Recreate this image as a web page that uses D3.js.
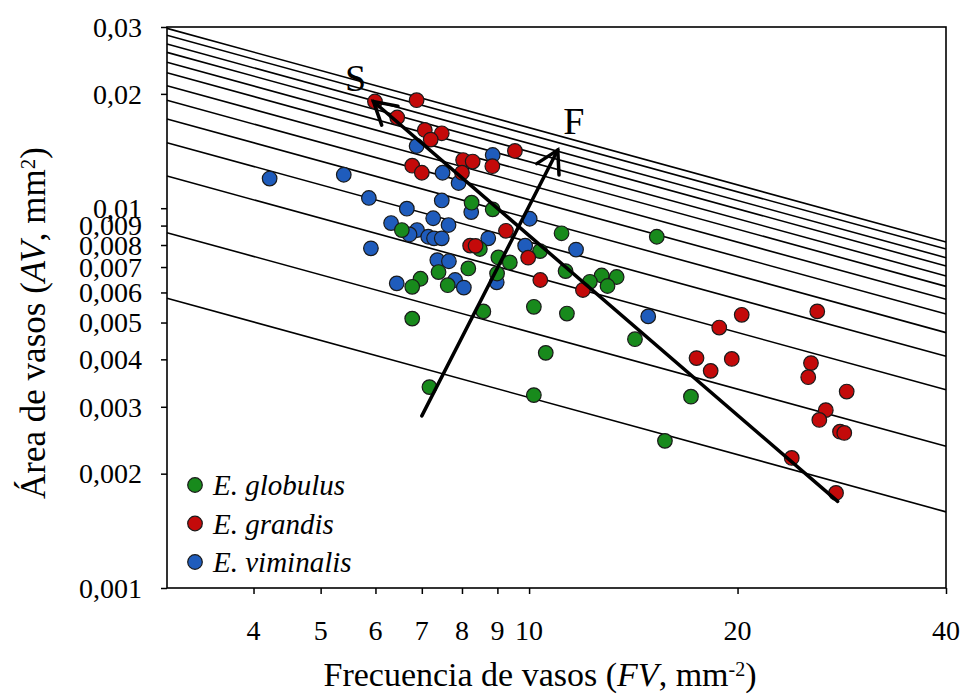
<!DOCTYPE html>
<html lang="es">
<head>
<meta charset="utf-8">
<title>Área de vasos vs frecuencia de vasos</title>
<script src="https://cdn.jsdelivr.net/npm/d3@7"></script>
<style>
  body { margin: 0; background: #fff; }
  text { font-family: "Liberation Serif", "Times New Roman", serif; fill: #000; }
  .axis path, .axis line { stroke: #000; stroke-width: 1.5; fill: none; }
  .iso { fill: none; stroke: #000; stroke-width: 1.6; }
  .arrow { fill: none; stroke: #000; stroke-width: 3.5; stroke-linecap: round; }
  .dot { stroke: #1a1a1a; stroke-width: 1.2; }
</style>
</head>
<body>
<div id="chart"></div>
<script>
// ---- data (FV in mm-2, AV in mm2) ----
var globulusFV = [8.26, 8.86, 6.55, 8.49, 11.14, 15.29, 10.37, 9.03, 9.38, 8.17, 7.40, 8.99, 11.29, 12.73, 13.38,
                  12.24, 12.98, 6.97, 6.78, 7.63, 10.16, 11.34, 8.59, 6.78, 10.57, 7.18, 10.16, 14.22, 17.13, 15.71];
var globulusAV = [0.01034, 0.00993, 0.00876, 0.00781, 0.00859, 0.00841, 0.00771, 0.00742, 0.00720, 0.00694, 0.00679, 0.00673, 0.00683, 0.00665, 0.00659,
                  0.00640, 0.00624, 0.00652, 0.00621, 0.00627, 0.00550, 0.00528, 0.00535, 0.00512, 0.00416, 0.00338, 0.00322, 0.00452, 0.00319, 0.00244];

var grandisFV = [5.99, 6.88, 6.45, 7.07, 7.48, 7.21, 9.54, 8.03, 8.29, 8.85, 6.78, 7.00, 8.00, 9.26, 8.22, 8.37, 9.97,
                 10.38, 11.96, 20.28, 26.07, 18.82, 17.45, 19.62, 18.29, 25.53, 25.30, 28.75, 26.82, 26.25, 28.12, 28.52, 23.95, 27.75];
var grandisAV = [0.01910, 0.01925, 0.01733, 0.01607, 0.01575, 0.01516, 0.01415, 0.01339, 0.01327, 0.01290, 0.01294, 0.01240, 0.01240, 0.00872, 0.00797, 0.00796, 0.00741,
                 0.00647, 0.00609, 0.00524, 0.00535, 0.00485, 0.00403, 0.00401, 0.00373, 0.00391, 0.00359, 0.00329, 0.00294, 0.00277, 0.00258, 0.00256, 0.00220, 0.00178];

var viminalisFV = [4.22, 5.40, 6.88, 8.86, 7.50, 7.91, 5.87, 7.48, 8.25, 6.66, 7.27, 7.65, 6.32, 6.89, 6.72,
                   7.15, 7.29, 7.48, 8.73, 10.02, 9.87, 11.69, 5.91, 7.37, 7.66, 7.82, 8.05, 6.44, 8.98, 14.86];
var viminalisAV = [0.01197, 0.01225, 0.01458, 0.01381, 0.01240, 0.01165, 0.01064, 0.01048, 0.00977, 0.00997, 0.00941, 0.00903, 0.00914, 0.00876, 0.00853,
                   0.00841, 0.00833, 0.00833, 0.00833, 0.00938, 0.00797, 0.00778, 0.00784, 0.00730, 0.00725, 0.00647, 0.00618, 0.00634, 0.00638, 0.00519];

// iso lines: constant FV * AV^2 (mm2)
var isoK = [1.007e-4, 2.23e-4, 4.43e-4, 6.64e-4, 8.85e-4, 11.1e-4, 13.25e-4, 15.5e-4, 17.6e-4, 19.85e-4, 21.95e-4, 24.4e-4, 26.55e-4];

// arrows [FV, AV] from -> to
var arrowS = [[27.9, 0.00169], [5.96, 0.0191]];
var arrowF = [[7.0, 0.00284], [11.0, 0.01423]];

var xTicks = [4, 5, 6, 7, 8, 9, 10, 20, 40];
var yTicks = [0.001, 0.002, 0.003, 0.004, 0.005, 0.006, 0.007, 0.008, 0.009, 0.01, 0.02, 0.03];

var species = ["E. globulus", "E. grandis", "E. viminalis"];
var colors = ["#188a1c", "#c40a0a", "#1f5cbc"];

// ---- layout ----
var W = 962, H = 697;
var mLeft = 167, mRight = 946, mTop = 27, mBottom = 588;

var svg = d3.select("#chart").append("svg")
  .attr("width", W).attr("height", H);

var x = d3.scaleLog().domain([3, 40]).range([mLeft, mRight]);
var y = d3.scaleLog().domain([0.001, 0.03]).range([mBottom, mTop]);

function fmt(v) { return String(+v.toPrecision(3)).replace(".", ","); }

// iso lines
var isoLine = d3.line().x(function(d){ return x(d[0]); }).y(function(d){ return y(d[1]); });
svg.append("g").selectAll("path")
  .data(isoK).enter().append("path")
  .attr("class", "iso")
  .attr("d", function(k) {
    return isoLine([3, 40].map(function(f){ return [f, Math.sqrt(k / f)]; }));
  });

// axes
svg.append("g").attr("class", "axis")
  .attr("transform", "translate(0," + mBottom + ")")
  .call(d3.axisBottom(x).tickValues(xTicks).tickSize(6).tickFormat(""));
svg.append("g").attr("class", "axis")
  .attr("transform", "translate(" + mLeft + ",0)")
  .call(d3.axisLeft(y).tickValues(yTicks).tickSize(6).tickFormat(""));
svg.selectAll(".axis .domain").remove();

// frame
svg.append("rect")
  .attr("x", mLeft).attr("y", mTop)
  .attr("width", mRight - mLeft).attr("height", mBottom - mTop)
  .attr("fill", "none").attr("stroke", "#000").attr("stroke-width", 1.6);

// tick labels
svg.append("g").selectAll("text")
  .data(xTicks).enter().append("text")
  .attr("x", function(d){ return x(d); })
  .attr("y", 640)
  .attr("text-anchor", "middle")
  .style("font-size", "28px")
  .text(function(d){ return d; });

svg.append("g").selectAll("text")
  .data(yTicks).enter().append("text")
  .attr("x", 142)
  .attr("y", function(d){ return y(d); })
  .attr("dy", "0.35em")
  .attr("text-anchor", "end")
  .style("font-size", "28px")
  .text(fmt);

// points
var series = [
  {fv: viminalisFV, av: viminalisAV, c: colors[2]},
  {fv: globulusFV, av: globulusAV, c: colors[0]},
  {fv: grandisFV, av: grandisAV, c: colors[1]}
];
series.forEach(function(s) {
  svg.append("g").selectAll("circle")
    .data(d3.range(s.fv.length)).enter().append("circle")
    .attr("class", "dot")
    .attr("cx", function(i){ return x(s.fv[i]); })
    .attr("cy", function(i){ return y(s.av[i]); })
    .attr("r", 7.3)
    .attr("fill", s.c);
});

// arrows with open heads
function drawArrow(a) {
  var x0 = x(a[0][0]), y0 = y(a[0][1]), x1 = x(a[1][0]), y1 = y(a[1][1]);
  var ang = Math.atan2(y0 - y1, x0 - x1), len = 25, sp = Math.PI / 6;
  svg.append("path").attr("class", "arrow")
    .attr("d", "M" + x0 + "," + y0 + "L" + x1 + "," + y1);
  svg.append("path").attr("class", "arrow")
    .attr("d", "M" + (x1 + len * Math.cos(ang + sp)) + "," + (y1 + len * Math.sin(ang + sp)) +
               "L" + x1 + "," + y1 +
               "L" + (x1 + len * Math.cos(ang - sp)) + "," + (y1 + len * Math.sin(ang - sp)));
  return [x1, y1];
}
var tipS = drawArrow(arrowS);
var tipF = drawArrow(arrowF);

svg.append("text").attr("x", tipS[0] - 18).attr("y", tipS[1] - 10)
  .attr("text-anchor", "middle").style("font-size", "38px").text("S");
svg.append("text").attr("x", tipF[0] + 16).attr("y", tipF[1] - 16)
  .attr("text-anchor", "middle").style("font-size", "38px").text("F");

// legend
var legend = svg.append("g").selectAll("g")
  .data(species).enter().append("g")
  .attr("transform", function(d, i){ return "translate(195," + (485 + i * 38.5) + ")"; });
legend.append("circle")
  .attr("class", "dot")
  .attr("r", 7.3)
  .attr("fill", function(d, i){ return colors[i]; });
legend.append("text")
  .attr("x", 18).attr("y", 10)
  .style("font-size", "29px").style("font-style", "italic")
  .text(function(d){ return d; });

// axis titles (superscripts shifted in px so the closing bracket sits back on the baseline)
var xt = svg.append("text")
  .attr("x", 540).attr("y", 686)
  .attr("text-anchor", "middle")
  .style("font-size", "34px");
xt.append("tspan").text("Frecuencia de vasos (");
xt.append("tspan").style("font-style", "italic").text("FV");
xt.append("tspan").text(", mm");
xt.append("tspan").attr("dy", -10).style("font-size", "20px").text("-2");
xt.append("tspan").attr("dy", 10).text(")");

var yt = svg.append("text")
  .attr("transform", "translate(45,323) rotate(-90)")
  .attr("text-anchor", "middle")
  .style("font-size", "35px");
yt.append("tspan").text("Área de vasos (");
yt.append("tspan").style("font-style", "italic").text("AV");
yt.append("tspan").text(", mm");
yt.append("tspan").attr("dy", -10).style("font-size", "21px").text("2");
yt.append("tspan").attr("dy", 10).text(")");
</script>
</body>
</html>
